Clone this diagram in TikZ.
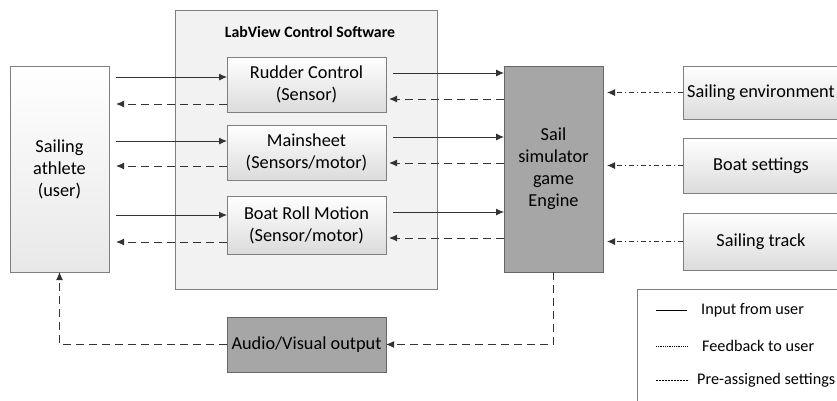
\documentclass[tikz,border=0pt]{standalone}
\usepackage{fontspec}
\setmainfont{Carlito}
\usetikzlibrary{arrows.meta,shadows}
\definecolor{boxline}{HTML}{7F7F7F}
\definecolor{darkfill}{HTML}{A6A6A6}
\definecolor{panelfill}{HTML}{F2F2F2}
\definecolor{arrowgrey}{HTML}{333333}
\begin{document}
\begin{tikzpicture}[x=1pt,y=-1pt,
  blk/.style={rectangle,draw=boxline,line width=0.8pt,align=center,inner sep=0pt,outer sep=0pt,
    font=\fontsize{18.3}{22}\selectfont,drop shadow={shadow xshift=1.2pt,shadow yshift=-1.2pt,opacity=0.25}},
  lightbox/.style={blk,top color=white,bottom color=black!14},
  darkbox/.style={blk,fill=darkfill,draw=black!60},
  userin/.style={draw=arrowgrey,line width=0.9pt,-{Latex[length=8pt,width=7pt]}},
  feedback/.style={draw=arrowgrey,line width=1pt,dash pattern=on 8pt off 5pt,-{Latex[length=8pt,width=7pt]}},
  preset/.style={draw=arrowgrey,line width=0.9pt,dash pattern=on 5pt off 3pt on 1.2pt off 3pt,-{Latex[length=8pt,width=7pt]}},
  legtext/.style={anchor=west,inner sep=0pt,font=\fontsize{16.2}{19}\selectfont}]
\useasboundingbox (0,0) rectangle (837,400);
\fill[white] (0,0) rectangle (837,400);
\clip (0,0) rectangle (837,400);

% LabView panel
\node[rectangle,draw=boxline,line width=0.8pt,fill=panelfill,minimum width=262pt,minimum height=279pt,
  drop shadow={shadow xshift=1.2pt,shadow yshift=-1.2pt,opacity=0.2}] (labview) at (306,149.5) {};
\node[font=\fontsize{15.8}{18}\selectfont\bfseries] (title) at (310,32) {LabView Control Software};

% blocks
\node[lightbox,minimum width=99pt,minimum height=206pt,top color=white,bottom color=black!9] (athlete) at (59.5,169) {Sailing\\athlete\\(user)};
\node[lightbox,minimum width=159pt,minimum height=55pt] (rudder) at (306.5,84.5) {Rudder Control\\(Sensor)};
\node[lightbox,minimum width=159pt,minimum height=55pt] (mainsheet) at (306.5,152.5) {Mainsheet\\(Sensors/motor)};
\node[lightbox,minimum width=159pt,minimum height=58pt] (boatroll) at (306.5,225) {Boat Roll Motion\\(Sensor/motor)};
\node[darkbox,minimum width=99pt,minimum height=206pt] (engine) at (553.5,169) {Sail\\simulator\\game\\Engine};
\node[darkbox,minimum width=159pt,minimum height=55pt] (av) at (306.5,344.5) {Audio/Visual output};
\node[lightbox,minimum width=156pt,minimum height=53pt] (env) at (761,92.5) {Sailing environment};
\node[lightbox,minimum width=156pt,minimum height=55pt] (boat) at (761,165.5) {Boat settings};
\node[lightbox,minimum width=156pt,minimum height=57pt] (track) at (761,241.5) {Sailing track};

% athlete <-> sensors <-> engine
\foreach \b/\ls/\ld/\rs/\rd in {rudder/77/104/73/99, mainsheet/141/166/137/163, boatroll/215/242/212/238}{
  \draw[userin] ([xshift=7pt]athlete.east |- 0,\ls) -- (\b.west |- 0,\ls);
  \draw[feedback] (\b.west |- 0,\ld) -- ([xshift=7pt]athlete.east |- 0,\ld);
  \draw[userin] ([xshift=7pt]\b.east |- 0,\rs) -- (engine.west |- 0,\rs);
  \draw[feedback] (engine.west |- 0,\rd) -- ([xshift=3pt]\b.east |- 0,\rd);
}

% pre-assigned settings
\draw[preset] (env.west) -- ([xshift=4pt]engine.east |- env.west);
\draw[preset] (boat.west) -- ([xshift=4pt]engine.east |- boat.west);
\draw[preset] (track.west) -- ([xshift=4pt]engine.east |- track.west);

% output to user
\draw[feedback] (engine.south) |- (av.east);
\draw[feedback] (av.west) -| (athlete.south);

% legend
\node[rectangle,draw=boxline,line width=0.8pt,fill=white,minimum width=213pt,minimum height=121pt] (legend) at (743.5,349.5) {};
\node[legtext] (leg1) at (701,310) {Input from user};
\node[legtext] (leg2) at (702,346) {Feedback to user};
\node[legtext] (leg3) at (697,380) {Pre-assigned settings};
\draw[line width=0.7pt] ([xshift=-45pt]leg1.west) -- ([xshift=-14pt]leg1.west);
\draw[line width=0.6pt,dash pattern=on 1pt off 0.8pt] ([xshift=-46pt]leg2.west) -- ([xshift=-14pt]leg2.west);
\draw[line width=0.6pt,dash pattern=on 2pt off 1pt] ([xshift=-41pt]leg3.west) -- ([xshift=-8pt]leg3.west);
\end{tikzpicture}
\end{document}
